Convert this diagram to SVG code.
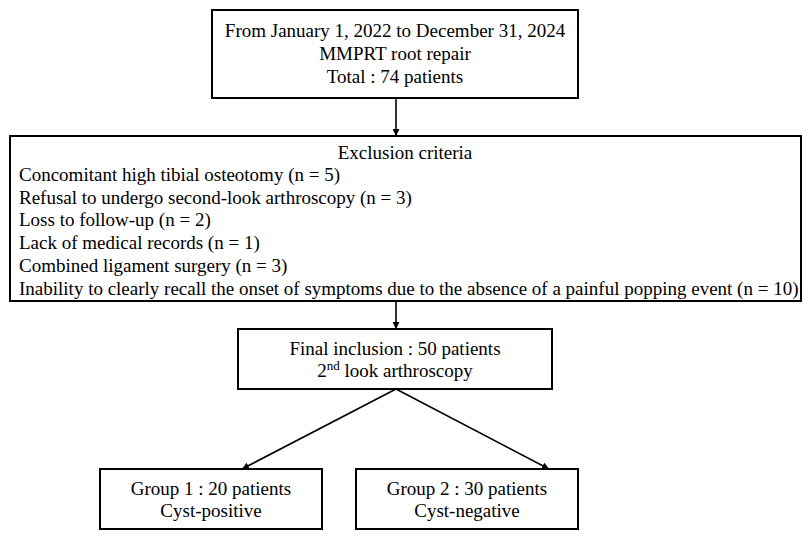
<svg xmlns="http://www.w3.org/2000/svg" width="812" height="540" viewBox="0 0 812 540">
<style>
  .box { fill: #ffffff; stroke: #000000; stroke-width: 2; }
  .t { font-family: "Liberation Serif", "Times New Roman", serif; font-size: 19px; fill: #000000; }
  .c { text-anchor: middle; }
  .edge { stroke: #000000; stroke-width: 1.6; fill: none; marker-end: url(#arr); }
</style>
<defs>
  <marker id="arr" viewBox="0 0 10 10" refX="10" refY="5" markerWidth="7" markerHeight="7" markerUnits="userSpaceOnUse" orient="auto">
    <path d="M0,0 L10,5 L0,10 z" fill="#000000"/>
  </marker>
</defs>
<rect width="812" height="540" fill="#ffffff"/>
<g id="connectors">
  <line class="edge" x1="396" y1="98" x2="396" y2="136"/>
  <line class="edge" x1="396" y1="301" x2="396" y2="329"/>
  <line class="edge" x1="396" y1="389" x2="242" y2="469"/>
  <line class="edge" x1="396" y1="389" x2="549" y2="469"/>
</g>
<g id="start">
  <rect class="box" x="212" y="10" width="366" height="88"/>
  <text class="t c" x="395" y="37">From January 1, 2022 to December 31, 2024</text>
  <text class="t c" x="395" y="60">MMPRT root repair</text>
  <text class="t c" x="395" y="83">Total : 74 patients</text>
</g>
<g id="exclusion">
  <rect class="box" x="10" y="136" width="791" height="165"/>
  <text class="t c" x="405" y="159">Exclusion criteria</text>
  <text class="t" x="19" y="181">Concomitant high tibial osteotomy (n = 5)</text>
  <text class="t" x="19" y="204">Refusal to undergo second-look arthroscopy (n = 3)</text>
  <text class="t" x="19" y="226">Loss to follow-up (n = 2)</text>
  <text class="t" x="19" y="249">Lack of medical records (n = 1)</text>
  <text class="t" x="19" y="272">Combined ligament surgery (n = 3)</text>
  <text class="t" x="19" y="295">Inability to clearly recall the onset of symptoms due to the absence of a painful popping event (n = 10)</text>
</g>
<g id="final">
  <rect class="box" x="238" y="329" width="314" height="60"/>
  <text class="t c" x="395" y="355">Final inclusion : 50 patients</text>
  <text class="t c" x="395" y="377">2<tspan font-size="13" dy="-7">nd</tspan><tspan dy="7"> look arthroscopy</tspan></text>
</g>
<g id="group1">
  <rect class="box" x="100" y="469" width="222" height="60"/>
  <text class="t c" x="211" y="495">Group 1 : 20 patients</text>
  <text class="t c" x="211" y="517">Cyst-positive</text>
</g>
<g id="group2">
  <rect class="box" x="356" y="469" width="222" height="60"/>
  <text class="t c" x="467" y="495">Group 2 : 30 patients</text>
  <text class="t c" x="467" y="517">Cyst-negative</text>
</g>
</svg>
